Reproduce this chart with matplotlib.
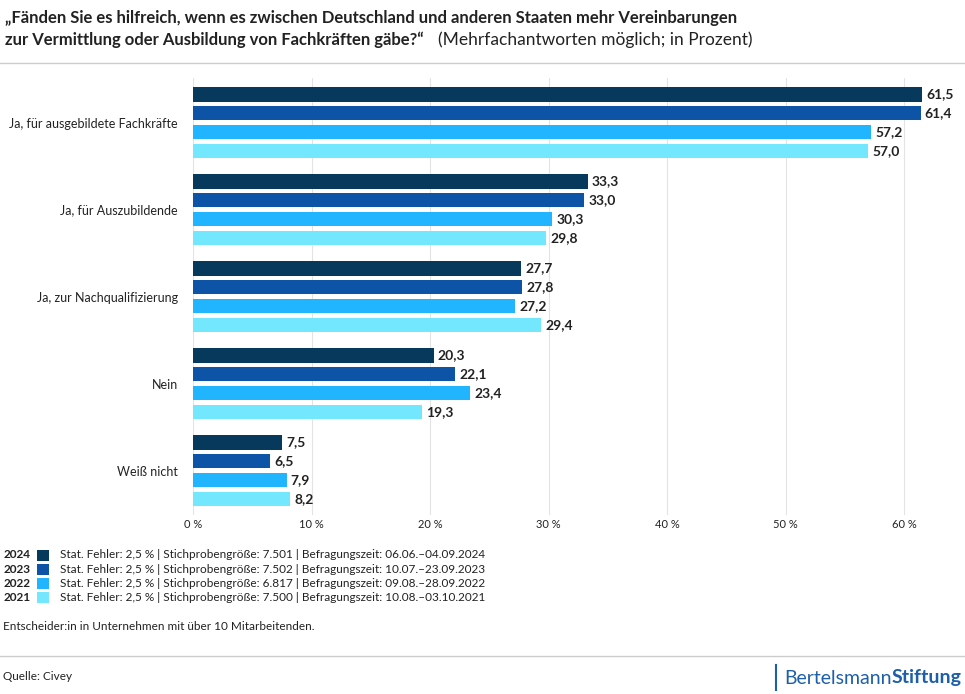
import numpy as np
import matplotlib.pyplot as plt
from matplotlib.patches import Rectangle
from matplotlib.lines import Line2D

plt.rcParams['font.family'] = ['Lato', 'DejaVu Sans']

categories = ["Ja, für ausgebildete Fachkräfte", "Ja, für Auszubildende",
              "Ja, zur Nachqualifizierung", "Nein", "Weiß nicht"]
years = ["2024", "2023", "2022", "2021"]
values = {
    "2024": [61.5, 33.3, 27.7, 20.3, 7.5],
    "2023": [61.4, 33.0, 27.8, 22.1, 6.5],
    "2022": [57.2, 30.3, 27.2, 23.4, 7.9],
    "2021": [57.0, 29.8, 29.4, 19.3, 8.2],
}
colors = ["#07395c", "#0d54a6", "#20b5fe", "#73e7fe"]
legend_info = [
    "Stat. Fehler: 2,5 % | Stichprobengröße: 7.501 | Befragungszeit: 06.06.–04.09.2024",
    "Stat. Fehler: 2,5 % | Stichprobengröße: 7.502 | Befragungszeit: 10.07.–23.09.2023",
    "Stat. Fehler: 2,5 % | Stichprobengröße: 6.817 | Befragungszeit: 09.08.–28.09.2022",
    "Stat. Fehler: 2,5 % | Stichprobengröße: 7.500 | Befragungszeit: 10.08.–03.10.2021",
]
xticks = [0, 10, 20, 30, 40, 50, 60]

W, H = 965, 694
fig = plt.figure(figsize=(W / 100, H / 100), dpi=100)

ax_left, ax_right, ax_top, ax_bottom = 193, 949, 78, 515
ax = fig.add_axes([ax_left / W, 1 - ax_bottom / H,
                   (ax_right - ax_left) / W, (ax_bottom - ax_top) / H])

y = np.arange(len(categories))
bar_h = 0.165
step = 0.215
for i, yr in enumerate(years):
    pos = y + (i - 1.5) * step
    ax.barh(pos, values[yr], height=bar_h, color=colors[i], zorder=3)
    for p, v in zip(pos, values[yr]):
        ax.text(v + 0.35, p, f"{v:.1f}".replace(".", ","), va="center", ha="left",
                fontsize=10, fontweight="bold", color="#222222")

ax.set_xlim(0, (ax_right - ax_left) / 11.85)
ax.set_ylim(4.51, -0.513)
ax.set_xticks(xticks)
ax.set_xticklabels([f"{t} %" for t in xticks], fontsize=8, color="#222222")
ax.set_yticks(y)
ax.set_yticklabels(categories, fontsize=9, color="#222222")
ax.tick_params(axis="both", length=0)
ax.tick_params(axis="x", pad=3)
ax.tick_params(axis="y", pad=11)
ax.grid(axis="x", color="#e3e3e3", linewidth=0.8, zorder=0)
for s in ax.spines.values():
    s.set_visible(False)

# title
fig.text(5 / W, 1 - 18 / H, "„Fänden Sie es hilfreich, wenn es zwischen Deutschland und anderen Staaten mehr Vereinbarungen",
         fontsize=12, fontweight="bold", va="center", ha="left", color="#222222")
t2 = fig.text(5 / W, 1 - 40 / H, "zur Vermittlung oder Ausbildung von Fachkräften gäbe?“",
              fontsize=12, fontweight="bold", va="center", ha="left", color="#222222")
fig.canvas.draw()
bb = t2.get_window_extent()
fig.text(bb.x1 / W + 14 / W, 1 - 40 / H, "(Mehrfachantworten möglich; in Prozent)",
         fontsize=12.5, va="center", ha="left", color="#222222")

# separator lines
fig.add_artist(Line2D([0, 1], [1 - 63 / H, 1 - 63 / H], color="#cccccc", linewidth=1))
fig.add_artist(Line2D([0, 1], [1 - 656 / H, 1 - 656 / H], color="#cccccc", linewidth=1))

# legend
for i, yr in enumerate(years):
    yy = 1 - (555 + i * 14.3) / H
    fig.text(4 / W, yy, yr, fontsize=8.5, fontweight="bold", va="center", color="#222222")
    fig.add_artist(Rectangle((37 / W, yy - 5.5 / H), 12 / W, 11 / H,
                             facecolor=colors[i], edgecolor="none", transform=fig.transFigure))
    fig.text(60 / W, yy, legend_info[i], fontsize=8.5, va="center", color="#222222")

fig.text(3 / W, 1 - 626 / H, "Entscheider:in in Unternehmen mit über 10 Mitarbeitenden.",
         fontsize=8.5, va="center", color="#222222")
fig.text(3 / W, 1 - 677 / H, "Quelle: Civey", fontsize=8.5, va="center", color="#222222")

# logo
blue = "#1d5fa8"
fig.add_artist(Line2D([776 / W, 776 / W], [1 - 690 / H, 1 - 665 / H], color=blue, linewidth=1.5))
ts = fig.text(962 / W, 1 - 678 / H, "Stiftung", fontsize=14, fontweight="bold",
              color=blue, va="center", ha="right")
fig.canvas.draw()
bb = ts.get_window_extent()
fig.text(bb.x0 / W, 1 - 678 / H, "Bertelsmann", fontsize=14, color=blue,
         va="center", ha="right")

fig.savefig("out.png", dpi=100)
